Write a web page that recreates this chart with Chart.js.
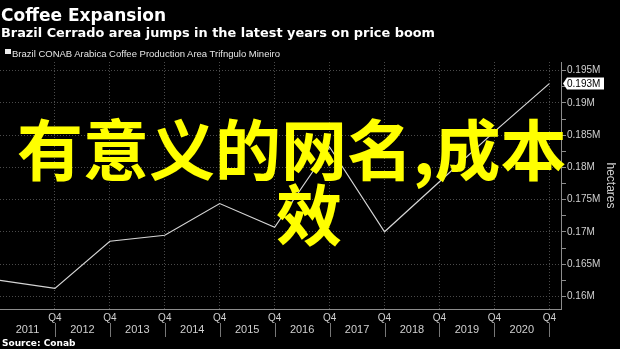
<!DOCTYPE html>
<html>
<head>
<meta charset="utf-8">
<script src="https://cdn.jsdelivr.net/npm/chart.js@4/dist/chart.umd.min.js"></script>
<style>
  html, body { margin: 0; padding: 0; background: #000; }
  #wrap { position: relative; width: 620px; height: 349px; overflow: hidden; background: #000; }
  #c { position: absolute; left: 0; top: 0; }
  .t { position: absolute; white-space: nowrap; color: #fff; line-height: 1; transform-origin: 0 0; }
  #title { left: 1px; top: 4.6px; font: bold 17px "DejaVu Sans", sans-serif; }
  #subtitle { left: 1px; top: 24.5px; font: bold 13px "DejaVu Sans", sans-serif; }
  #legend { left: 12px; top: 48px; font: 9.5px "Liberation Sans", sans-serif; color: #e6e6e6; }
  #legendBox { position: absolute; left: 5px; top: 49px; width: 5.5px; height: 5px; background: #eee; }
  #source { left: 2px; top: 338.4px; font: bold 9px "DejaVu Sans", sans-serif; }
  .big { position: absolute; white-space: nowrap; color: #ffff00; font: bold 66px "Noto Sans CJK SC", sans-serif; line-height: 66px; }
  #big1 { left: 17px; top: 113px; }
  #big2 { left: 276px; top: 178px; }
</style>
</head>
<body>
<div id="wrap">
  <canvas id="c" width="620" height="349"></canvas>
  <div class="t" id="title" data-w="165">Coffee Expansion</div>
  <div class="t" id="subtitle" data-w="434">Brazil Cerrado area jumps in the latest years on price boom</div>
  <div id="legendBox"></div>
  <div class="t" id="legend" data-w="268">Brazil CONAB Arabica Coffee Production Area Trifngulo Mineiro</div>
  <div class="t" id="source">Source: Conab</div>
  <div class="big" id="big1">有意义的网名,成本</div>
  <div class="big" id="big2">效</div>
</div>
<script>
// Q4 readings, 2010 through 2020 (hectares, millions)
const periods = [2010, 2011, 2012, 2013, 2014, 2015, 2016, 2017, 2018, 2019, 2020];
const area = [0.16248, 0.16124, 0.16856, 0.16949, 0.17440, 0.17073, 0.18317, 0.17002, 0.17779, 0.18556, 0.193];
const yTickValues = [0.16, 0.165, 0.17, 0.175, 0.18, 0.185, 0.19, 0.195];
const yearLabels = ['2011', '2012', '2013', '2014', '2015', '2016', '2017', '2018', '2019', '2020'];
const quarterLabel = 'Q4';

// squeeze header lines to their set widths
document.querySelectorAll('.t[data-w]').forEach(el => {
  const w = el.getBoundingClientRect().width;
  el.style.transform = 'scaleX(' + (parseFloat(el.dataset.w) / w) + ')';
});

const tickFont = { family: 'Liberation Sans', size: 10 };
const labelColor = '#d0d0d0';
const gridColor = '#4a4a4a';
const axisColor = '#8c8c8c';

const yMinor = yTickValues.slice(0, -1).map((v, i) => (v + yTickValues[i + 1]) / 2);
const yAll = yTickValues.concat(yMinor).sort((a, b) => a - b);
const isMajor = v => yTickValues.some(t => Math.abs(t - v) < 1e-9);

const q4Ticks = periods.slice(1).map(p => p - periods[0]);

const yearPlugin = {
  id: 'yearRow',
  afterDraw(chart) {
    const ctx = chart.ctx;
    const xs = chart.scales.x;
    ctx.save();
    ctx.fillStyle = labelColor;
    ctx.font = '11px "Liberation Sans"';
    ctx.textAlign = 'center';
    ctx.textBaseline = 'middle';
    yearLabels.forEach((lab, i) => {
      ctx.fillText(lab, xs.getPixelForValue(q4Ticks[i] - 0.5), 330);
    });
    ctx.strokeStyle = '#777';
    ctx.lineWidth = 1;
    q4Ticks.forEach(v => {
      const x = Math.round(xs.getPixelForValue(v)) + 0.5;
      ctx.beginPath();
      ctx.moveTo(x, 323);
      ctx.lineTo(x, 337);
      ctx.stroke();
    });
    ctx.restore();
  }
};

const lastValuePlugin = {
  id: 'lastValue',
  afterDraw(chart) {
    const ctx = chart.ctx;
    const v = area[area.length - 1];
    const y = chart.scales.y.getPixelForValue(v);
    const x0 = chart.chartArea.right + 2;
    ctx.save();
    ctx.fillStyle = '#fff';
    ctx.beginPath();
    ctx.moveTo(x0, y);
    ctx.lineTo(x0 + 4, y - 6);
    ctx.lineTo(x0 + 41, y - 6);
    ctx.lineTo(x0 + 41, y + 6);
    ctx.lineTo(x0 + 4, y + 6);
    ctx.closePath();
    ctx.fill();
    ctx.fillStyle = '#000';
    ctx.font = '10px "Liberation Sans"';
    ctx.textBaseline = 'middle';
    ctx.fillText(Number(v.toFixed(3)) + 'M', x0 + 4, y + 0.5);
    ctx.restore();
  }
};

new Chart(document.getElementById('c'), {
  type: 'line',
  data: {
    datasets: [{
      label: 'Brazil CONAB Arabica Coffee Production Area Trifngulo Mineiro',
      data: area.map((v, i) => ({ x: periods[i] - periods[0], y: v })),
      borderColor: '#d6d6d6',
      borderWidth: 1.2,
      pointRadius: 0,
      tension: 0,
      fill: false
    }]
  },
  options: {
    responsive: false,
    animation: false,
    devicePixelRatio: 1,
    layout: { padding: { top: 62, left: 0, right: 0, bottom: 0 } },
    plugins: { legend: { display: false }, tooltip: { enabled: false } },
    scales: {
      x: {
        type: 'linear',
        min: 0,
        max: 10.213,
        afterBuildTicks: s => { s.ticks = q4Ticks.map(v => ({ value: v })); },
        afterFit: s => { s.height = 40; },
        ticks: {
          callback: () => quarterLabel,
          color: labelColor,
          font: tickFont,
          padding: 3,
          maxRotation: 0,
          autoSkip: false
        },
        grid: { color: gridColor, drawTicks: false, lineWidth: 1 },
        border: { color: axisColor, width: 1, dash: [1, 2] }
      },
      y: {
        position: 'right',
        min: 0.15805,
        max: 0.19635,
        afterBuildTicks: s => { s.ticks = yAll.map(v => ({ value: v })); },
        afterFit: s => { s.width = 59; },
        ticks: {
          callback: v => isMajor(v) ? Number(v.toFixed(3)) + 'M' : '',
          color: labelColor,
          font: tickFont,
          padding: 1,
          autoSkip: false
        },
        grid: {
          color: ctx => (ctx.tick && isMajor(ctx.tick.value)) ? gridColor : 'rgba(0,0,0,0)',
          tickColor: axisColor,
          tickLength: 5,
          tickBorderDash: [],
          lineWidth: 1
        },
        border: { color: axisColor, width: 1, dash: [1, 2] },
        title: {
          display: true,
          text: 'hectares',
          color: labelColor,
          font: { family: 'Liberation Sans', size: 12 },
          padding: { top: 2, bottom: 2 }
        }
      }
    }
  },
  plugins: [yearPlugin, lastValuePlugin]
});
</script>
</body>
</html>
